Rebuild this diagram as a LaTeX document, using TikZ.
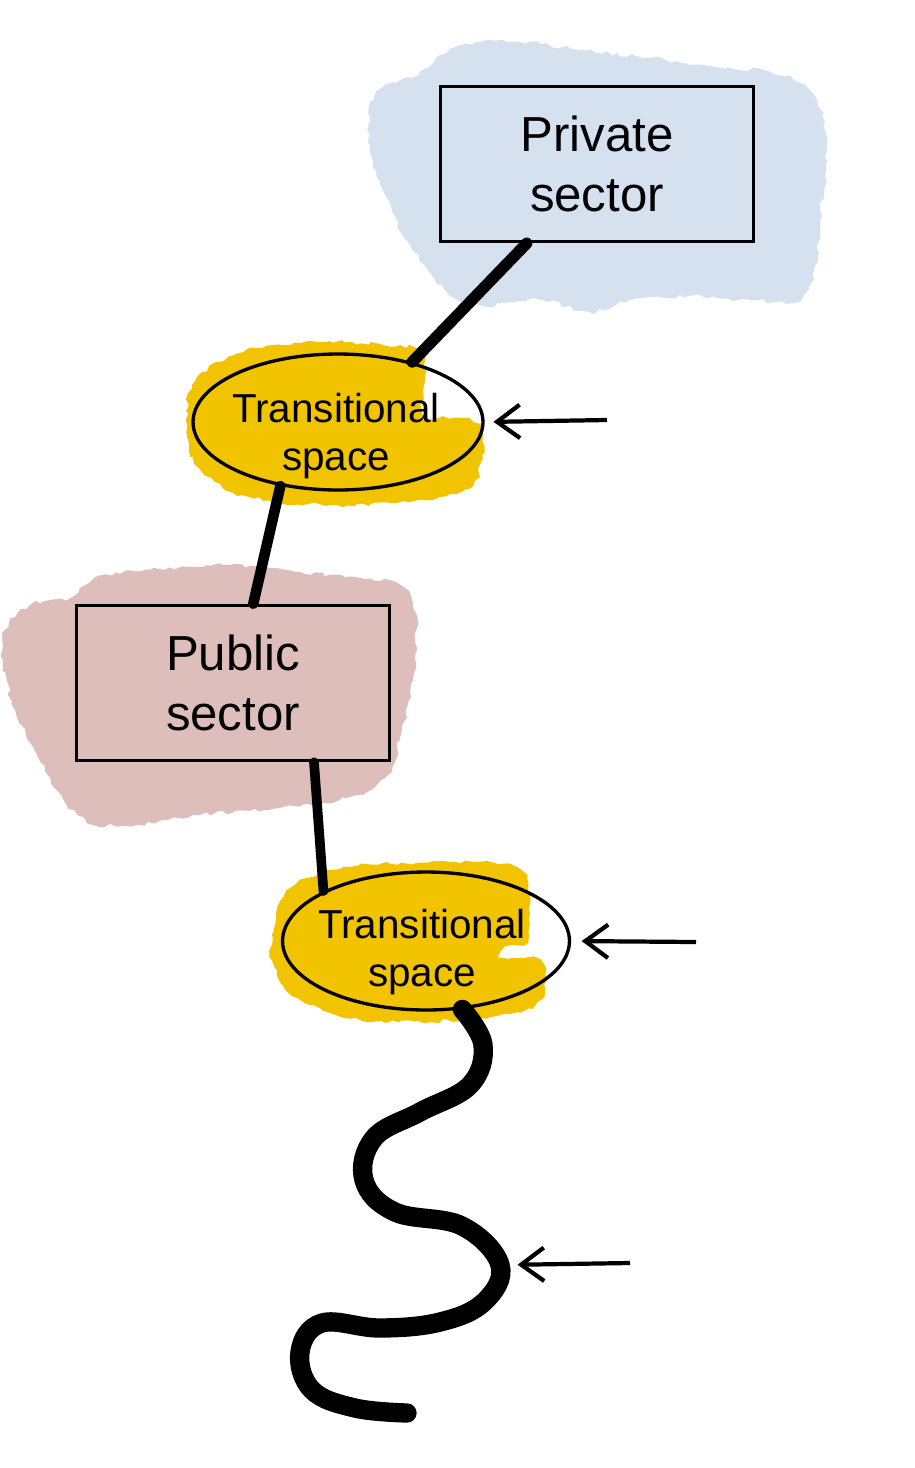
\documentclass[tikz,border=0pt]{standalone}
\usepackage{fontspec}
\setmainfont{Liberation Sans}
\usetikzlibrary{shapes.geometric,arrows.meta,calc,decorations.pathmorphing}
\definecolor{azul}{HTML}{D6E1EF}
\definecolor{rosa}{HTML}{DDBEBB}
\definecolor{amarelo}{HTML}{F2C400}

\begin{document}
\begin{tikzpicture}[x=0.02cm, y=-0.02cm,
  setor/.style={draw, line width=2pt, minimum width=6.26cm, minimum height=3.1cm,
    align=center, font=\fontsize{28}{34}\selectfont},
  transicao/.style={draw, ellipse, line width=1.9pt, minimum width=5.8cm,
    minimum height=2.72cm, inner sep=0pt},
  rotulo/.style={align=center, inner sep=0pt, font=\fontsize{23}{27}\selectfont},
  mancha/.style={decorate, decoration={random steps, segment length=3pt, amplitude=1.2pt}},
  ligacao/.style={line width=6.5pt, line cap=round},
  seta/.style={line width=2.4pt, -{Straight Barb[length=13pt,width=19pt]}}]
\useasboundingbox (0,0) rectangle (915,1468);
\pgfmathsetseed{7}
% Manchas de fundo
\fill[azul, mancha] plot[smooth cycle, tension=0.6] coordinates {(375,95) (420,72) (460,46)
  (520,42) (580,50) (650,58) (710,66) (770,72) (805,85) (822,115) (826,165) (820,220)
  (815,265) (800,300) (750,300) (690,296) (630,300) (590,312) (540,300) (480,305)
  (445,290) (410,245) (385,195) (370,145)};
\fill[rosa, mancha] plot[smooth cycle, tension=0.6] coordinates {(5,630) (30,605) (70,598)
  (95,578) (150,570) (230,565) (300,572) (360,578) (400,585) (415,612) (413,680)
  (402,730) (385,778) (340,800) (280,808) (200,815) (120,826) (78,815) (45,770)
  (15,710) (3,665)};
\fill[amarelo, mancha] plot[smooth cycle, tension=0.5] coordinates {(186,420) (192,385)
  (218,362) (258,348) (320,342) (380,344) (420,350) (425,380) (423,414) (455,418)
  (480,425) (482,455) (473,485) (440,497) (390,503) (330,505) (275,502) (232,492)
  (202,472) (189,448)};
\fill[amarelo, mancha] plot[smooth cycle, tension=0.5] coordinates {(272,935) (278,905)
  (295,885) (330,870) (380,864) (450,862) (500,864) (527,875) (529,910) (527,943)
  (505,947) (503,957) (540,960) (545,990) (532,1008) (490,1017) (430,1022) (360,1020)
  (310,1005) (283,985) (272,960)};

% Setores e espacos de transicao
\node[setor, fill=azul] (priv) at (597,164) {Private\\sector};
\node[setor, fill=rosa] (pub) at (233,683) {Public\\sector};
\node[transicao] (ts1) at (338,422) {};
\node[rotulo] (ts1t) at (336,436) {Transitional\\space};
\node[transicao, minimum width=5.74cm, minimum height=2.76cm] (ts2) at (426,941) {};
\node[rotulo] (ts2t) at (422,952) {Transitional\\space};

% Ligacoes
\draw[ligacao] ($(priv.south west)!0.278!(priv.south east)$) -- (ts1.39);
\draw[ligacao, line width=6pt] (ts1.228) -- ($(pub.north west)!0.564!(pub.north east)$);
\draw[ligacao, line width=5.5pt] ($(pub.south west)!0.756!(pub.south east)$) -- (ts2.154);
\coordinate (wv) at (500,1265);
\draw[line width=11pt, line cap=round] plot[smooth, tension=0.65] coordinates {(ts2.298)
  (483,1045) (470,1085) (420,1112) (374,1138) (364,1180) (395,1212) (462,1226)
  (wv) (484,1302) (440,1322) (380,1328) (322,1323) (300,1352) (312,1390)
  (355,1408) (407,1413)};

% Setas
\coordinate (s1) at (607,420);
\coordinate (s2) at (696,942);
\coordinate (s3) at (630,1263);
\draw[seta, shorten >=5pt] (s1) -- (ts1.east);
\draw[seta, shorten >=6pt] (s2) -- (ts2.east);
\draw[seta, shorten >=10pt] (s3) -- (wv);
\end{tikzpicture}
\end{document}
